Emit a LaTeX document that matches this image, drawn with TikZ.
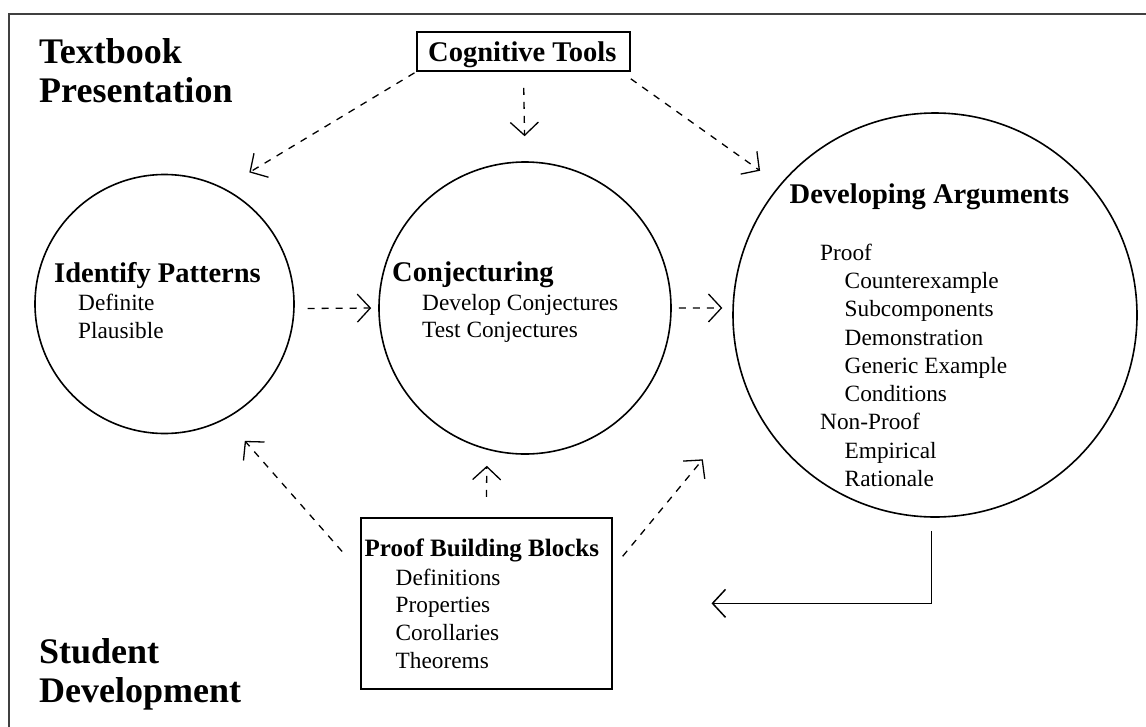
\documentclass[tikz,border=0pt]{standalone}
\usepackage{fontspec}
\setmainfont{Liberation Serif}
\usetikzlibrary{arrows.meta,calc}
\begin{document}
\begin{tikzpicture}[x=1pt,y=-1pt,
 title/.style={font=\fontsize{36}{39}\selectfont\bfseries, anchor=base west, inner sep=0},
 head/.style={font=\fontsize{28.5}{33}\selectfont\bfseries, anchor=base west, inner sep=0},
 smallhead/.style={font=\fontsize{25}{30}\selectfont\bfseries, anchor=base west, inner sep=0},
 item/.style={font=\fontsize{23.3}{28}\selectfont, anchor=base west, inner sep=0},
 bubble/.style={circle, draw, line width=1.6pt, inner sep=0},
 boxed/.style={rectangle, draw, line width=1.6pt, inner sep=0},
 link/.style={dash pattern=on 7pt off 7pt, line width=1.3pt, -{Straight Barb[length=13pt,width=28pt,line width=1.3pt]}},
 flow/.style={line width=1.5pt, -{Straight Barb[length=13pt,width=28pt,line width=1.5pt]}}]

\useasboundingbox (0,0) rectangle (1146,726);
\begin{scope}
\clip (0,0) rectangle (1146,726);
\draw[line width=2.2pt, color=black!75] (9,14) rectangle (1170,760);
\end{scope}

% titles
\node[title] (t1) at (39,63) {Textbook};
\node[title] (t2) at (39,102) {Presentation};
\node[title] (s1) at (39,663) {Student};
\node[title] (s2) at (39,702) {Development};

% cognitive tools box
\node[boxed, minimum width=213pt, minimum height=39pt] (ctbox) at (523.5,51.5) {};
\node[head] (cttext) at (428,61) {Cognitive Tools};

% circles
\node[bubble, minimum size=259pt] (ip) at (164.5,304) {};
\node[bubble, minimum size=292pt] (conj) at (525,308) {};
\node[bubble, minimum size=404pt] (dev) at (935,315) {};

% identify patterns text
\node[head] (iph) at (54,282.7) {Identify Patterns};
\node[item] (ip1) at (78,310.7) {Definite};
\node[item] (ip2) at (78,338) {Plausible};

% conjecturing text
\node[head] (cjh) at (392,281.7) {Conjecturing};
\node[item] (cj1) at (422,310) {Develop Conjectures};
\node[item] (cj2) at (422,337) {Test Conjectures};

% developing arguments text
\node[head] (dah) at (789.5,203) {Developing Arguments};
\node[item] (da1) at (820,260) {Proof};
\node[item] (da2) at (844.5,288) {Counterexample};
\node[item] (da3) at (844.5,316.5) {Subcomponents};
\node[item] (da4) at (844.5,345) {Demonstration};
\node[item] (da5) at (844.5,373) {Generic Example};
\node[item] (da6) at (844.5,401.5) {Conditions};
\node[item] (da7) at (820,429.5) {Non-Proof};
\node[item] (da8) at (844.5,458) {Empirical};
\node[item] (da9) at (844.5,486) {Rationale};

% proof building blocks
\node[boxed, minimum width=251pt, minimum height=171.3pt] (pbb) at (486.2,603.35) {};
\node[smallhead] (pbh) at (364.5,556) {Proof Building Blocks};
\node[item] (pb1) at (395.5,585) {Definitions};
\node[item] (pb2) at (395.5,612.7) {Properties};
\node[item] (pb3) at (395.5,640.7) {Corollaries};
\node[item] (pb4) at (395.5,668) {Theorems};

% connectors
\draw[link, shorten <=2pt, shorten >=30pt] (ctbox.south west) -- (ip.63);
\draw[link, shorten <=16pt, shorten >=25pt] (ctbox.south) -- (conj.north);
\draw[link, shorten >=24pt] ($(ctbox.south east)+(0,7)$) -- (dev.140);
\draw[link, shorten <=13pt, shorten >=7pt] (ip.-2) -- (conj.180);
\draw[link, shorten <=7pt, shorten >=10pt] (conj.east) -- (dev.178);
\draw[link, shorten <=27pt, shorten >=29pt] ($(pbb.north west)!0.317!(pbb.south west)$) -- (ip.-62);
\draw[link, shorten <=20pt, shorten >=16pt] (pbb.north) -- (conj.-105.5);
\draw[link, shorten <=16pt, shorten >=76pt] ($(pbb.north east)!0.299!(pbb.south east)$) -- (dev.-155.6);
\draw[flow, shorten <=13pt, shorten >=99pt] (dev.-91) |- (pbb.east);
\end{tikzpicture}
\end{document}
